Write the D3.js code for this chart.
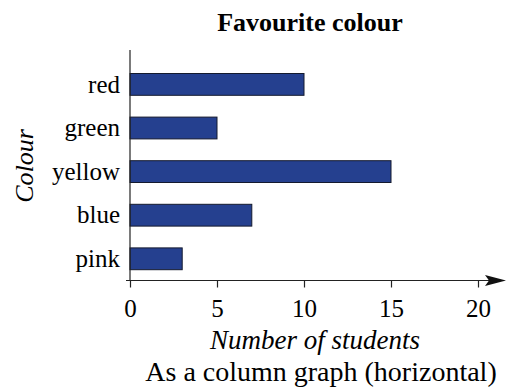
<!DOCTYPE html>
<html>
<head>
<meta charset="utf-8">
<script src="https://cdn.jsdelivr.net/npm/d3@7"></script>
<style>
html,body{margin:0;padding:0;background:#fff;}
svg{display:block;}
text{font-family:"Liberation Serif","Times New Roman",serif;fill:#000;}
</style>
</head>
<body>
<script>
const categories = ["red", "green", "yellow", "blue", "pink"];
const values = [10, 5, 15, 7, 3];
const xTicks = [0, 5, 10, 15, 20];
const title = "Favourite colour";
const xTitle = "Number of students";
const yTitle = "Colour";
const caption = "As a column graph (horizontal)";

const W = 507, H = 389;
const svg = d3.select("body").append("svg").attr("width", W).attr("height", H);

const x = d3.scaleLinear().domain([0, 20]).range([130, 478]);
const y = d3.scaleBand().domain(categories).range([62.6, 280.6]).paddingInner(0.5).paddingOuter(0.25);
const axisY = 280.5;

// bars
svg.append("g").selectAll("rect").data(categories).join("rect")
  .attr("x", x(0))
  .attr("y", d => y(d))
  .attr("width", (d, i) => x(values[i]) - x(0))
  .attr("height", y.bandwidth())
  .attr("fill", "#25408f")
  .attr("stroke", "#141a2e")
  .attr("stroke-width", 1);

// y axis line
svg.append("line").attr("x1", 130).attr("x2", 130).attr("y1", 50).attr("y2", axisY)
  .attr("stroke", "#222").attr("stroke-width", 1.2);

// x axis with D3 axis
const gx = svg.append("g").attr("transform", `translate(0,${axisY})`)
  .call(d3.axisBottom(x).tickValues(xTicks).tickSize(7).tickPadding(11.5).tickFormat(d3.format("d")));
gx.select(".domain").remove();
gx.selectAll(".tick line").attr("stroke", "#222").attr("stroke-width", 1.2);
gx.selectAll(".tick text").attr("font-size", 25).attr("font-family", "Liberation Serif").attr("fill", "#000");

svg.append("line").attr("x1", 126).attr("x2", 492).attr("y1", axisY).attr("y2", axisY)
  .attr("stroke", "#222").attr("stroke-width", 1.2);
// arrowhead
svg.append("path")
  .attr("d", `M${485},${axisY - 5.5} L${506},${axisY} L${485},${axisY + 5.5} L${489},${axisY} Z`)
  .attr("fill", "#111");

// category labels
svg.append("g").selectAll("text").data(categories).join("text")
  .attr("x", 120)
  .attr("y", d => y(d) + y.bandwidth() / 2)
  .attr("dy", "0.33em")
  .attr("text-anchor", "end")
  .attr("font-size", 25)
  .text(d => d);

// title
svg.append("text").attr("x", 310).attr("y", 31).attr("text-anchor", "middle")
  .attr("font-size", 26).attr("font-weight", "bold").text(title);

// x title
svg.append("text").attr("x", 315).attr("y", 349).attr("text-anchor", "middle")
  .attr("font-size", 27).attr("font-style", "italic").text(xTitle);

// caption
svg.append("text").attr("x", 321).attr("y", 381).attr("text-anchor", "middle")
  .attr("font-size", 28).text(caption);

// y title
svg.append("text").attr("transform", "translate(33,166) rotate(-90)").attr("text-anchor", "middle")
  .attr("font-size", 26).attr("font-style", "italic").text(yTitle);
</script>
</body>
</html>
